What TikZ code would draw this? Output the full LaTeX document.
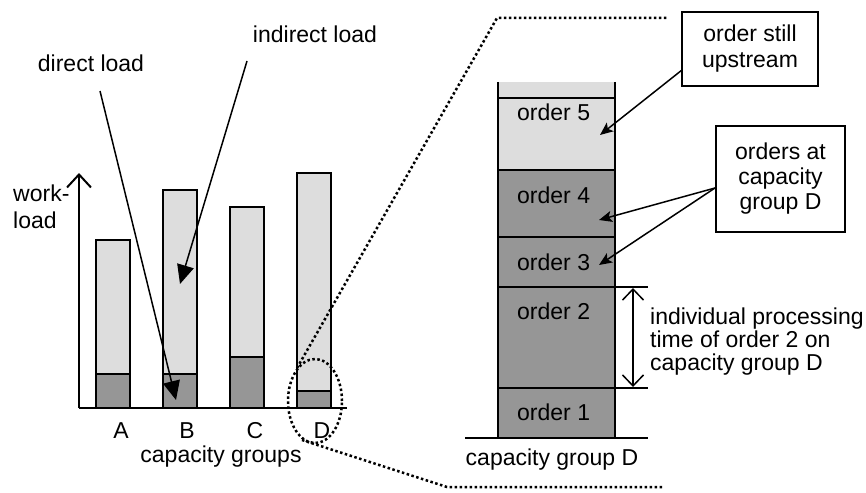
\documentclass[tikz,border=0pt]{standalone}
\usepackage{fontspec}
\setmainfont{Liberation Sans}
\usetikzlibrary{arrows.meta}
\definecolor{lightg}{RGB}{221,221,221}
\definecolor{darkg}{RGB}{150,150,150}
\begin{document}
\begin{tikzpicture}[x=1pt,y=-1pt,
  every node/.style={font=\fontsize{23}{25}\selectfont, inner sep=0pt},
  lightbar/.style={fill=lightg, draw=black, line width=2pt},
  darkbar/.style={fill=darkg, draw=black, line width=2pt},
  axisline/.style={line width=2pt},
  bigarrow/.style={line width=1.5pt, -{Triangle[length=19pt,width=17pt]}},
  callarrow/.style={line width=1.5pt, -{Stealth[length=13pt,width=11pt,inset=3pt]}},
  dotline/.style={line width=2.5pt, dash pattern=on 2.5pt off 2.5pt},
  callbox/.style={draw, line width=2pt, align=center}]
\useasboundingbox (0,0) rectangle (866,492);

% ---- left chart: bars
\draw[lightbar] (96,408) rectangle (130,240);
\draw[darkbar] (96,408) rectangle (130,374);
\draw[lightbar] (163,408) rectangle (197,190);
\draw[darkbar] (163,408) rectangle (197,374);
\draw[lightbar] (230,408) rectangle (264,207);
\draw[darkbar] (230,408) rectangle (264,357);
\draw[lightbar] (297,408) rectangle (331,173);
\draw[darkbar] (297,408) rectangle (331,391);

% axes
\coordinate (origin) at (79,408);
\coordinate (xend) at (347,408);
\coordinate (ytop) at (79,173);
\draw[axisline] (origin) -- (xend);
\draw[axisline, -{Straight Barb[length=13pt,width=24pt]}] (origin) -- (ytop);

% labels
\node (lA) at (121,431) {A};
\node (lB) at (187,431) {B};
\node (lC) at (255,431) {C};
\node (lD) at (322,431) {D};
\node (cg) at (221,457) {capacity groups};
\node[align=left, anchor=west] (wl) at (13,207) {work-\\[2pt]load};
\node (dl) at (91,63) {direct load};
\node (il) at (315,34) {indirect load};

% load arrows
\coordinate (dlTail) at (100,91);
\coordinate (dlTip) at (176,400);
\coordinate (ilTail) at (247,61);
\coordinate (ilTip) at (180,284);
\draw[bigarrow] (dlTail) -- (dlTip);
\draw[bigarrow] (ilTail) -- (ilTip);

% zoom ellipse and dotted lines
\draw[dotline] (315,401) ellipse [x radius=27pt, y radius=42pt];
\coordinate (e1) at (297,368);
\coordinate (c1) at (497,18);
\coordinate (f1) at (667,18);
\coordinate (e2) at (302,440);
\coordinate (c2) at (447,487);
\coordinate (f2) at (663,487);
\draw[dotline] (e1) -- (c1) -- (f1);
\draw[dotline] (e2) -- (c2) -- (f2);

% ---- right stack
\fill[lightg] (498,82) rectangle (615,170);
\fill[darkg] (498,170) rectangle (615,438);
\draw[axisline] (498,82) -- (498,438);
\draw[axisline] (615,82) -- (615,438);
\draw[axisline] (498,98) -- (615,98);
\draw[axisline] (498,170) -- (615,170);
\draw[axisline] (498,237) -- (615,237);
\draw[axisline] (498,287) -- (648,287);
\draw[axisline] (498,388) -- (648,388);
\draw[axisline] (465,438) -- (648,438);

\node[anchor=west] (o5) at (517,112) {order 5};
\node[anchor=west] (o4) at (517,195) {order 4};
\node[anchor=west] (o3) at (517,262) {order 3};
\node[anchor=west] (o2) at (517,311) {order 2};
\node[anchor=west] (o1) at (517,412) {order 1};
\node (cgD) at (552,460) {capacity group D};

% processing time arrow
\coordinate (ptTop) at (633,288);
\coordinate (ptBot) at (633,387);
\draw[line width=1.5pt, {Straight Barb[length=11pt,width=21pt]}-{Straight Barb[length=11pt,width=21pt]}] (ptTop) -- (ptBot);
\node[align=left, anchor=west, font=\fontsize{23}{23}\selectfont] (pt) at (650,342) {individual processing\\time of order 2 on\\capacity group D};

% callouts
\node[callbox, minimum width=136pt, minimum height=74pt] (bx1) at (750,49) {order still\\[1pt]upstream};
\node[callbox, minimum width=129pt, minimum height=106pt] (bx2) at (780.5,179) {orders at\\capacity\\group D};
\coordinate (a1t) at (682,70);
\coordinate (a1h) at (600,135);
\coordinate (a2t) at (715,188);
\coordinate (a2h) at (599,220);
\coordinate (a3h) at (599,265);
\draw[callarrow] (a1t) -- (a1h);
\draw[callarrow] (a2t) -- (a2h);
\draw[callarrow] (a2t) -- (a3h);
\end{tikzpicture}
\end{document}
